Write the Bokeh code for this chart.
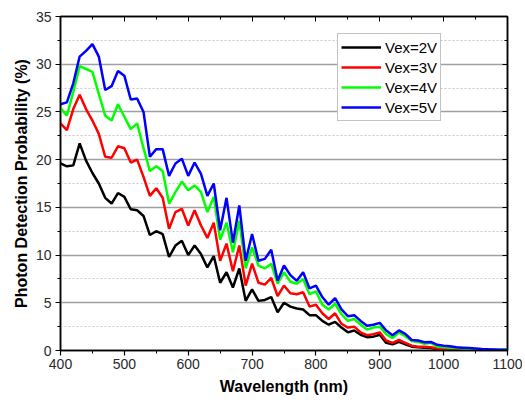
from bokeh.plotting import figure
from bokeh.embed import file_html
from bokeh.resources import INLINE
from bokeh.models import (LinearAxis, SingleIntervalTicker, Range1d,
                          CustomJSTickFormatter)

wavelength = list(range(400, 1101, 10))

vex2 = [19.6, 19.3, 19.4, 21.7, 19.9, 18.6, 17.5, 16.0, 15.4, 16.5,
        16.1, 14.8, 14.7, 14.1, 12.1, 12.5, 12.2, 9.8, 11.0, 11.5,
        10.0, 11.0, 10.1, 8.7, 9.9, 7.1, 8.2, 6.6, 8.6, 5.2,
        6.4, 5.2, 5.3, 5.6, 4.0, 5.0, 4.6, 4.4, 4.3, 3.7,
        3.7, 3.1, 2.7, 3.0, 2.4, 1.9, 2.1, 1.65, 1.4, 1.45,
        1.65, 0.8, 0.65, 0.9, 0.65, 0.4, 0.35, 0.3, 0.25, 0.15,
        0.1, 0.08, 0.05, 0.05, 0.03, 0.03, 0.02, 0.02, 0.02, 0.01,
        0.01]

vex3 = [23.8, 23.1, 25.3, 26.8, 25.3, 24.1, 22.7, 20.3, 20.2, 21.4,
        21.2, 19.7, 20.0, 18.2, 16.2, 17.0, 16.0, 12.75, 14.5, 14.85,
        13.1, 14.7, 13.1, 11.8, 13.4, 9.4, 11.2, 8.3, 11.0, 6.8,
        9.1, 7.1, 6.9, 7.6, 5.7, 6.8, 6.0, 5.9, 6.1, 4.6,
        4.8, 3.9, 3.3, 3.9, 2.8, 2.4, 2.5, 1.9, 1.6, 1.7,
        1.9, 1.05, 0.8, 1.1, 0.8, 0.5, 0.4, 0.4, 0.35, 0.2,
        0.15, 0.12, 0.1, 0.08, 0.06, 0.05, 0.05, 0.12, 0.05, 0.03,
        0.02]

vex4 = [25.4, 24.6, 27.1, 29.8, 29.5, 29.2, 26.9, 24.6, 24.1, 25.8,
        24.5, 23.2, 23.8, 21.2, 18.8, 19.3, 18.8, 15.4, 16.6, 17.7,
        16.8, 17.3, 16.6, 14.5, 16.1, 11.6, 13.4, 10.3, 13.6, 8.6,
        10.8, 8.9, 8.6, 9.1, 7.0, 8.2, 7.2, 7.0, 7.5, 5.9,
        6.2, 4.8, 4.3, 4.9, 3.8, 3.1, 3.3, 2.7, 2.2, 2.4,
        2.5, 1.7, 1.3, 1.9, 1.5, 1.0, 0.9, 0.7, 0.8, 0.4,
        0.35, 0.3, 0.25, 0.2, 0.15, 0.12, 0.1, 0.1, 0.08, 0.1,
        0.15]

vex5 = [25.8, 26.0, 28.0, 30.8, 31.4, 32.1, 30.8, 27.3, 27.7, 29.3,
        28.8, 26.3, 26.4, 25.0, 20.3, 21.1, 21.1, 18.3, 19.6, 20.1,
        18.3, 19.7, 18.5, 16.2, 17.5, 12.6, 16.0, 11.3, 15.2, 9.4,
        12.2, 9.4, 9.6, 10.55, 7.3, 8.9, 7.9, 7.3, 8.2, 6.5,
        6.8, 5.6, 4.8, 5.5, 4.3, 3.6, 3.7, 3.1, 2.6, 2.7,
        2.9, 2.1, 1.6, 2.1, 1.75, 1.1, 1.05, 0.87, 0.9, 0.6,
        0.5, 0.45, 0.35, 0.3, 0.25, 0.2, 0.15, 0.12, 0.1, 0.08,
        0.05]

series_labels = ["Vex=2V", "Vex=3V", "Vex=4V", "Vex=5V"]
series_colors = ["#000000", "#ff0000", "#00ff00", "#0000ff"]

FONT = "Liberation Sans"

p = figure(width=522, height=400, output_backend="svg", toolbar_location=None,
           x_range=Range1d(400, 1100), y_range=Range1d(0, 35),
           min_border_left=60, min_border_right=15, min_border_top=16,
           min_border_bottom=50)

for ys, lab, col in zip([vex2, vex3, vex4, vex5], series_labels, series_colors):
    p.line(wavelength, ys, line_color=col, line_width=2.5, legend_label=lab)

xt = SingleIntervalTicker(interval=100, num_minor_ticks=2)
yt = SingleIntervalTicker(interval=5, num_minor_ticks=2)

xa = p.xaxis[0]
xa.ticker = xt
xa.axis_label = "Wavelength (nm)"
ya = p.yaxis[0]
ya.ticker = yt
ya.axis_label = "Photon Detection Probability (%)"

for ax in (xa, ya):
    ax.axis_line_width = 1.5
    ax.axis_line_color = "black"
    ax.major_tick_line_color = "black"
    ax.minor_tick_line_color = "black"
    ax.major_tick_line_width = 1.2
    ax.minor_tick_line_width = 1.0
    ax.major_tick_out = 5
    ax.major_tick_in = 0
    ax.minor_tick_out = 3
    ax.minor_tick_in = 0
    ax.major_label_text_font = FONT
    ax.major_label_text_font_size = "14px"
    ax.major_label_text_color = "#2a2a2a"
    ax.axis_label_text_font = FONT
    ax.axis_label_text_font_size = "16px"
    ax.axis_label_text_font_style = "bold"
    ax.axis_label_text_color = "black"
xa.major_label_standoff = 3
xa.axis_label_standoff = 6
ya.major_label_standoff = 4
ya.axis_label_standoff = 3

empty = CustomJSTickFormatter(code="return ''")
top = LinearAxis(ticker=SingleIntervalTicker(interval=100, num_minor_ticks=2),
                 formatter=empty)
right = LinearAxis(ticker=SingleIntervalTicker(interval=5, num_minor_ticks=2),
                   formatter=empty)
for ax in (top, right):
    ax.axis_line_width = 1.5
    ax.axis_line_color = "black"
    ax.major_tick_in = 5
    ax.major_tick_out = 0
    ax.minor_tick_in = 3
    ax.minor_tick_out = 0
    ax.major_label_standoff = 0
    ax.major_label_text_font_size = "1px"
p.add_layout(top, "above")
p.add_layout(right, "right")

p.xgrid.grid_line_color = None
p.ygrid.grid_line_color = "#a0a0a0"
p.ygrid.grid_line_width = 1.3
p.ygrid.minor_grid_line_color = "#c8c8c8"
p.ygrid.minor_grid_line_dash = "2 2"
p.ygrid.minor_grid_line_width = 1.0

p.outline_line_color = "black"
p.outline_line_width = 1.5
p.background_fill_color = "white"
p.border_fill_color = "white"

lg = p.legend[0]
lg.location = (277, 229)
lg.label_text_font = FONT
lg.label_text_font_size = "15px"
lg.label_text_color = "black"
lg.label_height = 20
lg.glyph_height = 20
lg.glyph_width = 40
lg.label_standoff = 4
lg.spacing = 0
lg.padding = 3
lg.margin = 0
lg.border_line_color = "#888888"
lg.border_line_width = 1
lg.background_fill_alpha = 1.0

open("out.html", "w").write(file_html(p, INLINE))
